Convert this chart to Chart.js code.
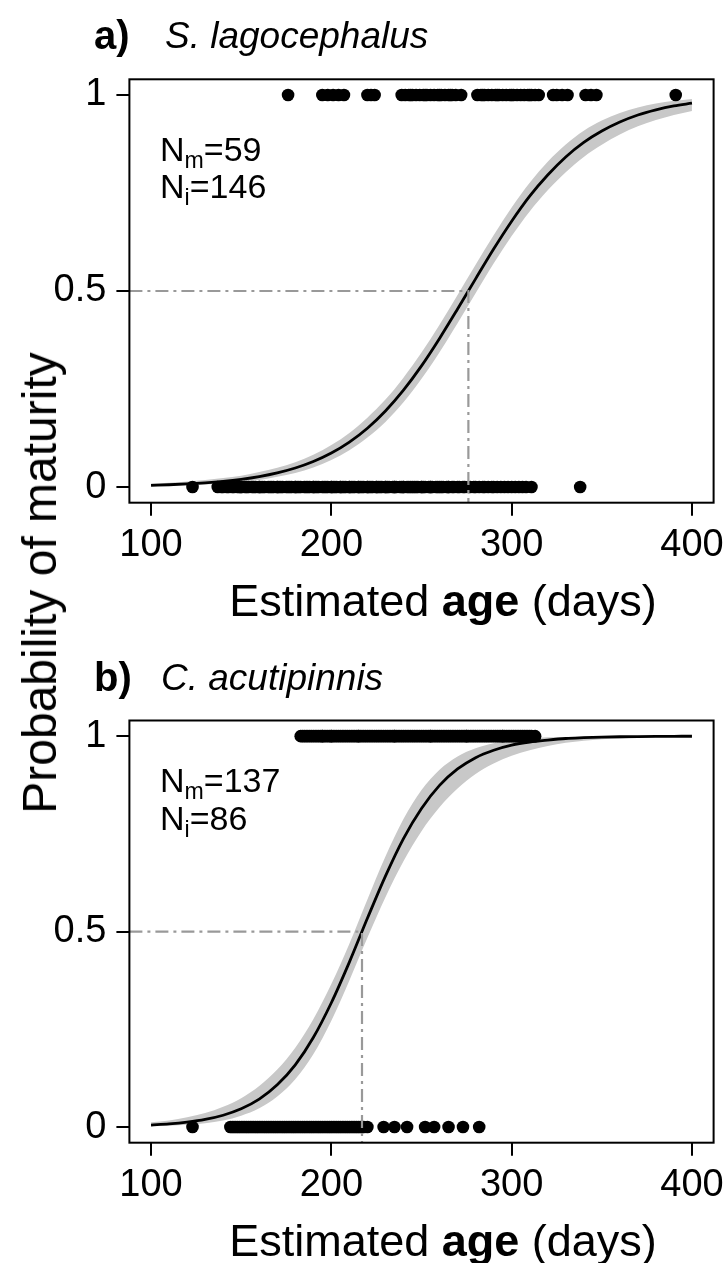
<!DOCTYPE html>
<html><head><meta charset="utf-8">
<script src="https://cdn.jsdelivr.net/npm/chart.js@4/dist/chart.umd.min.js"></script>
<style>
html,body{margin:0;padding:0;background:#fff;}
body{width:723px;height:1263px;position:relative;overflow:hidden;font-family:"Liberation Sans",Arial,sans-serif;color:#000;}
canvas{position:absolute;left:0;}
.t{position:absolute;white-space:nowrap;line-height:1;transform:translate(0,-50%);}
.c{transform:translate(-50%,-50%);}
.sub{font-size:0.68em;position:relative;top:0.3em;}
</style></head><body>
<canvas id="ca" width="723" height="641" style="top:0"></canvas>
<canvas id="cb" width="723" height="622" style="top:641px"></canvas>

<div class="t" style="left:94px;top:35px;font-size:40px;font-weight:bold;">a)</div>
<div class="t" style="left:165px;top:35px;font-size:37px;font-style:italic;">S. lagocephalus</div>
<div class="t" style="left:160px;top:149px;font-size:34px;">N<span class="sub">m</span>=59</div>
<div class="t" style="left:160px;top:186px;font-size:34px;">N<span class="sub">i</span>=146</div>
<div class="t c" style="left:443px;top:600px;font-size:45px;">Estimated <b>age</b> (days)</div>

<div class="t" style="left:94px;top:677px;font-size:40px;font-weight:bold;">b)</div>
<div class="t" style="left:161px;top:677px;font-size:37px;font-style:italic;">C. acutipinnis</div>
<div class="t" style="left:160px;top:780px;font-size:34px;">N<span class="sub">m</span>=137</div>
<div class="t" style="left:160px;top:818px;font-size:34px;">N<span class="sub">i</span>=86</div>
<div class="t c" style="left:443px;top:1240px;font-size:45px;">Estimated <b>age</b> (days)</div>

<div class="t" style="left:40px;top:583px;font-size:48px;transform:translate(-50%,-50%) rotate(-90deg);">Probability of maturity</div>

<script>
// ---------- axis setup ----------
const X_MIN = 88, X_MAX = 412;
const Y_MIN = -0.04, Y_MAX = 1.04;
const xTicks = [100, 200, 300, 400];
const yTicks = [0, 0.5, 1];

// ---------- panel a: S. lagocephalus ----------
const aMatureAge = [176,195,198,201,204,207,220,222,224,239,241,243,244,245,247,249,251,252,253,255,257,259,260,261,263,265,266,267,269,272,
  281,283,284,285,287,289,291,292,293,295,297,299,300,301,303,305,307,309,310,311,313,315,323,325,328,331,341,344,347,391];
const aImmatureAge = [123,137,139,140,142,143,145,146,148,149,150,150,152,153,154,156,157,158,160,160,161,162,163,165,166,167,168,
  170,170,171,172,173,175,176,177,178,180,180,181,182,183,185,186,187,188,190,190,191,192,193,195,196,197,198,
  200,200,201,202,203,205,205,206,207,208,210,210,211,212,213,215,215,216,217,218,220,220,221,222,223,225,225,226,227,228,
  230,230,231,232,234,235,235,236,238,239,240,240,242,243,244,245,246,247,248,250,250,251,252,254,255,255,256,258,259,
  260,261,262,264,265,265,267,268,270,271,273,274,276,277,279,280,282,284,285,287,289,290,292,294,296,298,
  300,302,304,306,308,311,338];
const aA50 = 276;
const curveAge = [100,110,120,130,140,150,160,170,180,190,200,210,220,230,240,250,260,270,280,290,300,310,320,330,340,350,360,370,380,390,400];
const aFit = [0.0043,0.0058,0.0079,0.0107,0.0145,0.0197,0.0267,0.0361,0.0485,0.065,0.0866,0.1145,0.150,0.194,0.247,0.309,0.379,0.454,0.531,0.607,0.678,0.742,0.796,0.842,0.879,0.908,0.931,0.949,0.962,0.972,0.979];
const aLower = [0.002,0.003,0.0045,0.0065,0.009,0.013,0.018,0.026,0.036,0.050,0.069,0.094,0.126,0.166,0.216,0.276,0.344,0.418,0.494,0.570,0.640,0.703,0.757,0.803,0.842,0.873,0.899,0.920,0.936,0.949,0.959];
const aUpper = [0.009,0.011,0.014,0.018,0.023,0.029,0.038,0.049,0.063,0.082,0.107,0.138,0.177,0.223,0.279,0.343,0.414,0.490,0.567,0.642,0.713,0.776,0.830,0.874,0.909,0.935,0.954,0.968,0.978,0.985,0.990];

// ---------- panel b: C. acutipinnis ----------
const bMatureAge = [183,184,185,186,187,188,189,190,191,192,193,194,195,195,196,197,198,199,200,200,201,202,203,204,205,206,207,208,209,210,211,212,213,214,215,215,216,217,218,219,220,221,222,223,224,225,226,227,228,229,
  230,231,232,233,234,235,235,236,237,238,239,240,241,242,243,244,245,246,247,248,249,250,251,252,253,254,255,255,256,257,258,259,260,261,262,263,264,265,266,267,268,269,
  270,271,272,273,274,275,275,276,277,278,279,280,281,282,283,284,285,286,287,288,289,290,291,292,293,294,295,295,296,297,298,299,300,301,302,303,304,305,306,307,308,309,310,311,313];
const bImmatureAge = [123,144,145,146,147,148,149,150,151,152,153,154,155,156,157,158,159,160,161,162,163,164,165,166,167,168,169,170,171,172,173,174,175,176,177,178,179,180,181,182,183,184,185,186,187,188,189,190,191,192,193,194,195,196,197,198,199,200,201,202,203,204,205,206,207,208,209,210,211,212,213,214,215,216,217,218,220,
  229,235,242,252,257,265,273,282];
const bA50 = 217;
const bFit = [0.0051,0.0080,0.0126,0.0195,0.0303,0.0467,0.0714,0.108,0.159,0.229,0.318,0.422,0.534,0.642,0.738,0.815,0.874,0.916,0.945,0.964,0.977,0.985,0.990,0.994,0.996,0.9975,0.9984,0.999,0.9994,0.9996,0.9997];
const bLower = [0.002,0.0035,0.006,0.010,0.017,0.029,0.048,0.078,0.122,0.186,0.272,0.375,0.484,0.588,0.680,0.757,0.818,0.866,0.903,0.930,0.950,0.964,0.975,0.983,0.988,0.992,0.994,0.996,0.997,0.998,0.9985];
const bUpper = [0.012,0.017,0.025,0.036,0.052,0.074,0.105,0.147,0.203,0.276,0.366,0.469,0.582,0.692,0.788,0.862,0.914,0.948,0.969,0.982,0.990,0.994,0.997,0.998,0.999,0.9995,0.9997,0.9998,0.9999,0.9999,1.0];

// ---------- drawing ----------
const FONT = '"Liberation Sans", Arial, sans-serif';
const BAND = '#c8c8c8';
const pts = (xs, ys) => xs.map((x, i) => ({x: x, y: ys[i]}));

const boxPlugin = {
  id: 'box',
  afterDatasetsDraw(chart) {
    const {ctx, chartArea: a} = chart;
    ctx.save();
    ctx.strokeStyle = '#000';
    ctx.lineWidth = 2;
    ctx.strokeRect(a.left, a.top, a.right - a.left, a.bottom - a.top);
    ctx.restore();
  }
};

function build(id, mature, immature, fit, lower, upper, a50, padTop, xAxisH) {
  const dots = mature.map(x => ({x: x, y: 1})).concat(immature.map(x => ({x: x, y: 0})));
  return new Chart(document.getElementById(id), {
    type: 'scatter',
    data: {
      datasets: [
        {type: 'line', data: pts(curveAge, upper), showLine: true, borderWidth: 0, borderColor: 'rgba(0,0,0,0)',
         pointRadius: 0, fill: '+1', backgroundColor: BAND, cubicInterpolationMode: 'monotone', order: 10},
        {type: 'line', data: pts(curveAge, lower), showLine: true, borderWidth: 0, borderColor: 'rgba(0,0,0,0)',
         pointRadius: 0, fill: false, cubicInterpolationMode: 'monotone', order: 11},
        {type: 'scatter', data: dots, pointRadius: 6.3, pointBackgroundColor: '#000', backgroundColor: '#000',
         borderWidth: 0, pointBorderWidth: 0, order: 5},
        {type: 'line', data: pts(curveAge, fit), showLine: true, borderColor: '#000', borderWidth: 2.8,
         pointRadius: 0, fill: false, cubicInterpolationMode: 'monotone', order: 3},
        {type: 'line', data: [{x: X_MIN, y: 0.5}, {x: a50, y: 0.5}, {x: a50, y: Y_MIN}], showLine: true,
         borderColor: '#999999', borderWidth: 2.2, borderDash: [13, 5, 3, 5], pointRadius: 0, tension: 0, fill: false, order: 1}
      ]
    },
    options: {
      responsive: false, animation: false, devicePixelRatio: 1, events: [],
      layout: {padding: {top: padTop, right: 9.4, left: 0, bottom: 0}},
      plugins: {legend: {display: false}, tooltip: {enabled: false}},
      scales: {
        x: {
          type: 'linear', min: X_MIN, max: X_MAX,
          afterBuildTicks: s => { s.ticks = xTicks.map(v => ({value: v})); },
          afterFit: s => { s.height = xAxisH; s.paddingLeft = 0; s.paddingRight = 0; },
          grid: {display: true, drawOnChartArea: false, drawTicks: true, tickLength: 13, color: '#000', lineWidth: 2},
          border: {display: false},
          ticks: {font: {family: FONT, size: 38}, color: '#000', padding: 7, maxRotation: 0, autoSkip: false,
                  callback: v => String(v)}
        },
        y: {
          type: 'linear', min: Y_MIN, max: Y_MAX,
          afterBuildTicks: s => { s.ticks = yTicks.map(v => ({value: v})); },
          afterFit: s => { s.width = 129.4; s.paddingTop = 0; s.paddingBottom = 0; },
          grid: {display: true, drawOnChartArea: false, drawTicks: true, tickLength: 13, color: '#000', lineWidth: 2},
          border: {display: false},
          ticks: {font: {family: FONT, size: 38}, color: '#000', padding: 10, autoSkip: false,
                  callback: v => String(v)}
        }
      }
    },
    plugins: [boxPlugin]
  });
}

build('ca', aMatureAge, aImmatureAge, aFit, aLower, aUpper, aA50, 79.3, 138.3);
build('cb', bMatureAge, bImmatureAge, bFit, bLower, bUpper, bA50, 79.5, 120.3);
</script>
</body></html>
